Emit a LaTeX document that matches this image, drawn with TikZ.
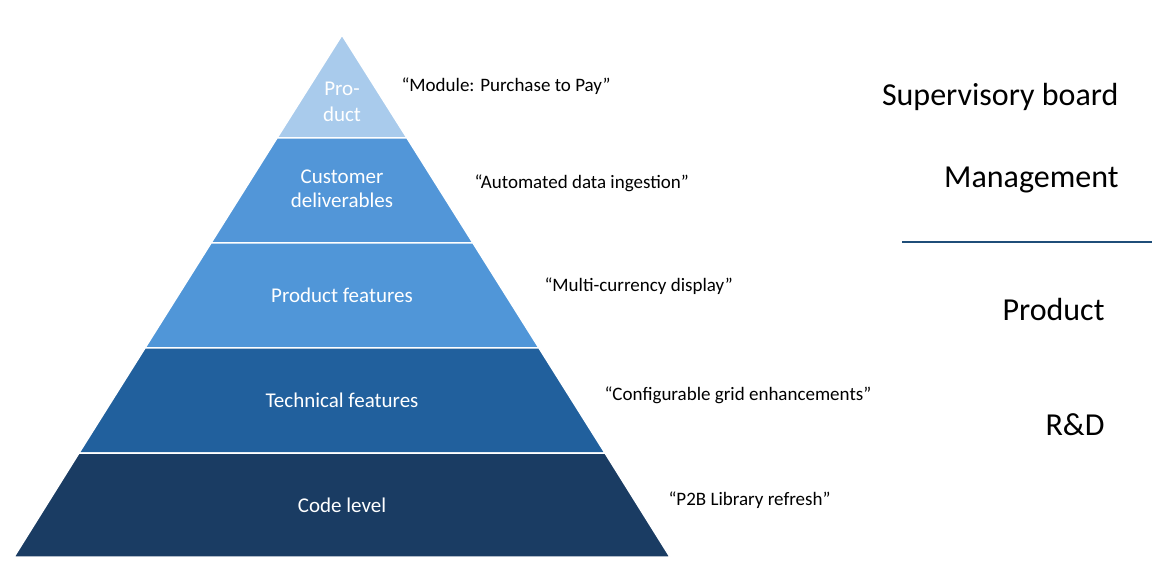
\documentclass[tikz,border=0pt]{standalone}
\usepackage{fontspec}
\setmainfont{Carlito}
\begin{document}
\begin{tikzpicture}[x=1pt,y=-1pt,
  lay/.style={draw=white,line width=1.5pt},
  lt/.style={text=white,font=\fontsize{21}{24}\selectfont,align=center},
  qt/.style={anchor=west,font=\fontsize{19}{22}\selectfont},
  rt/.style={anchor=east,font=\fontsize{32}{36}\selectfont}]
\useasboundingbox (0,0) rectangle (1152,577);
\definecolor{c1}{HTML}{A9CBEC}
\definecolor{c2}{HTML}{5296D8}
\definecolor{c3}{HTML}{5096D8}
\definecolor{c4}{HTML}{21609D}
\definecolor{c5}{HTML}{1A3C63}
\definecolor{ln}{HTML}{1F4E79}
\fill[c1,lay] (342,35) -- (407,138) -- (277,138) -- cycle;
\fill[c2,lay] (277,138) -- (407,138) -- (473,243) -- (211,243) -- cycle;
\fill[c3,lay] (211,243) -- (473,243) -- (539,348) -- (145,348) -- cycle;
\fill[c4,lay] (145,348) -- (539,348) -- (605,453) -- (79,453) -- cycle;
\fill[c5,lay] (79,453) -- (605,453) -- (670,557) -- (14,557) -- cycle;
\node[lt] (l1) at (342,102) {Pro-\\[2pt]duct};
\node[lt] (l2) at (342,189) {Customer\\deliverables};
\node[lt] (l3) at (342,295) {Product features};
\node[lt] (l4) at (342,400) {Technical features};
\node[lt] (l5) at (342,505) {Code level};
\node[qt] (q1) at (398,86) {“Module: Purchase to Pay”};
\node[qt] (q2) at (471,183) {“Automated data ingestion”};
\node[qt] (q3) at (541,286) {“Multi-currency display”};
\node[qt] (q4) at (601,395) {“Configurable grid enhancements”};
\node[qt] (q5) at (665,500) {“P2B Library refresh”};
\node[rt] (r1) at (1122,97) {Supervisory board};
\node[rt] (r2) at (1122,180) {Management};
\node[rt] (r3) at (1108,310) {Product};
\node[rt] (r4) at (1108,425) {R\&D};
\coordinate (s1) at (902,242);
\coordinate (s2) at (1152,242);
\draw[ln,line width=1.5pt] (s1) -- (s2);
\end{tikzpicture}
\end{document}
